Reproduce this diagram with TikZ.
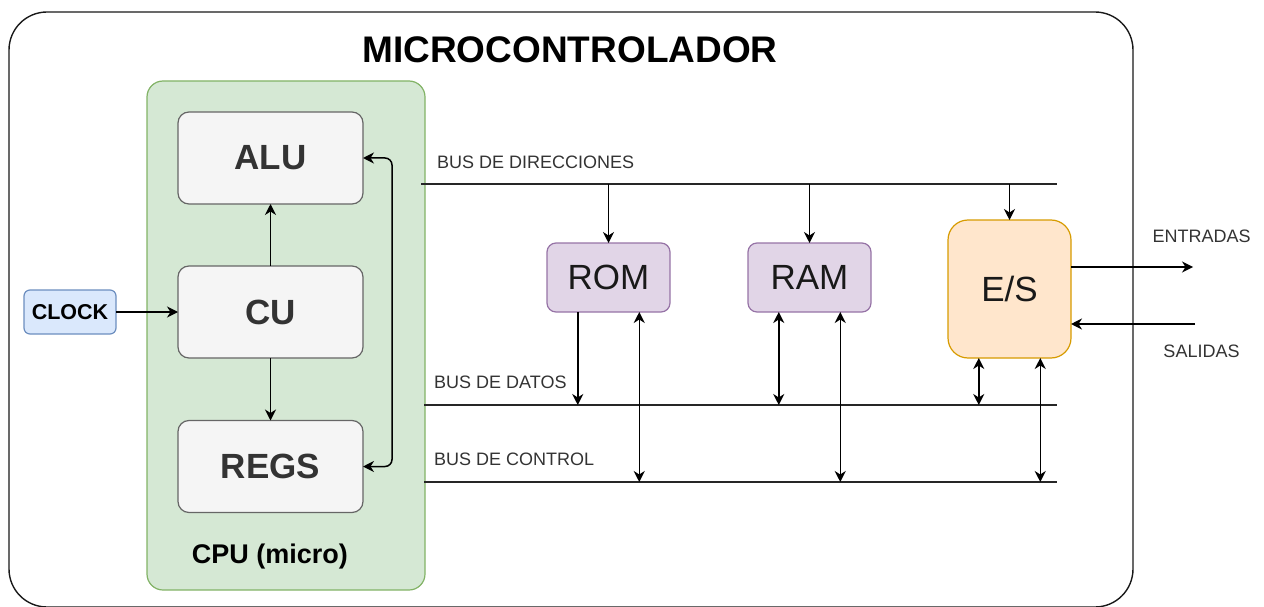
\documentclass[tikz,border=0pt]{standalone}
\usepackage{fontspec}
\setmainfont{Liberation Sans}
\usetikzlibrary{arrows.meta,calc}

\definecolor{cpuFill}{HTML}{D5E8D4}
\definecolor{cpuLine}{HTML}{82B366}
\definecolor{grayFill}{HTML}{F5F5F5}
\definecolor{grayLine}{HTML}{666666}
\definecolor{clkFill}{HTML}{DAE8FC}
\definecolor{clkLine}{HTML}{6C8EBF}
\definecolor{memFill}{HTML}{E1D5E7}
\definecolor{memLine}{HTML}{9673A6}
\definecolor{ioFill}{HTML}{FFE6CC}
\definecolor{ioLine}{HTML}{D79B00}
\definecolor{txtGray}{HTML}{333333}

\tikzset{
  blk/.style={draw, line width=1.2pt, inner sep=0pt, outer sep=0pt, align=center},
  unit/.style={blk, fill=grayFill, draw=grayLine, rounded corners=11pt,
    minimum width=185pt, minimum height=92pt, text=txtGray,
    font=\fontsize{35}{40}\selectfont\bfseries},
  mem/.style={blk, fill=memFill, draw=memLine, rounded corners=9pt,
    minimum width=123pt, minimum height=69pt, text=black!90,
    font=\fontsize{35}{40}\selectfont},
  buslabel/.style={anchor=west, inner sep=0pt, text=txtGray,
    font=\fontsize{18}{20}\selectfont},
  sidelabel/.style={inner sep=0pt, text=txtGray,
    font=\fontsize{18}{20}\selectfont},
  arr/.style={-{Stealth[length=11pt,width=11pt,inset=3.5pt]}, line width=1.5pt, black},
  arrb/.style={{Stealth[length=11pt,width=11pt,inset=3.5pt]}-{Stealth[length=11pt,width=11pt,inset=3.5pt]}, line width=1.5pt, black},
  bus/.style={line width=1.6pt, black!85},
}

\begin{document}
\begin{tikzpicture}[x=1pt, y=-1pt]
  \useasboundingbox (0,0) rectangle (1264,607);

  % outer frame of the microcontroller
  \draw[line width=1.4pt, black!90, rounded corners=38pt] (9,12) rectangle (1133,607);
  \node[inner sep=0pt, font=\fontsize{37}{42}\selectfont\bfseries] (title) at (570,50) {MICROCONTROLADOR};

  % CPU block
  \node[blk, fill=cpuFill, draw=cpuLine, rounded corners=16pt,
        minimum width=278pt, minimum height=509pt] (cpu) at (286,335.5) {};
  \node[inner sep=0pt, font=\fontsize{27}{30}\selectfont\bfseries] (cpulbl) at (270,557) {CPU (micro)};

  \node[unit] (alu)  at (270.5,158) {ALU};
  \node[unit] (cu)   at (270.5,312) {CU};
  \node[unit] (regs) at (270.5,466.5) {REGS};

  \node[blk, fill=clkFill, draw=clkLine, rounded corners=6pt,
        minimum width=92pt, minimum height=44pt,
        font=\fontsize{21.5}{24}\selectfont\bfseries] (clock) at (70,312) {CLOCK};

  \draw[arr] (clock) -- (cu);
  \draw[arr] (cu) -- (alu);
  \draw[arr] (cu) -- (regs);
  \draw[arrb, rounded corners=7pt] (alu.east) -- ++(29,0) |- (regs.east);

  % buses
  \coordinate (adrL) at (421,184);  \coordinate (adrR) at (1057,184);
  \coordinate (datL) at (424,405);  \coordinate (datR) at (1057,405);
  \coordinate (ctlL) at (424,482);  \coordinate (ctlR) at (1057,482);
  \draw[bus] (adrL) -- (adrR);
  \draw[bus] (datL) -- (datR);
  \draw[bus] (ctlL) -- (ctlR);
  \node[buslabel] (adrlbl) at (437,162) {BUS DE DIRECCIONES};
  \node[buslabel] (datlbl) at (434,382) {BUS DE DATOS};
  \node[buslabel] (ctllbl) at (434,459) {BUS DE CONTROL};

  % memories and I/O
  \node[mem] (rom) at (608.5,277.5) {ROM};
  \node[mem] (ram) at (809.5,277.5) {RAM};
  \node[blk, fill=ioFill, draw=ioLine, rounded corners=20pt,
        minimum width=123pt, minimum height=138pt, text=black!90,
        font=\fontsize{35}{40}\selectfont] (es) at (1009.5,289) {E/S};

  % address bus taps
  \draw[arr] (rom.north |- adrL) -- (rom.north);
  \draw[arr] (ram.north |- adrL) -- (ram.north);
  \draw[arr] (es.north |- adrL) -- (es.north);

  % data and control taps
  \path ($(rom.south west)!0.25!(rom.south east)$) coordinate (rom1)
        ($(rom.south west)!0.75!(rom.south east)$) coordinate (rom2)
        ($(ram.south west)!0.25!(ram.south east)$) coordinate (ram1)
        ($(ram.south west)!0.75!(ram.south east)$) coordinate (ram2)
        ($(es.south west)!0.25!(es.south east)$) coordinate (es1)
        ($(es.south west)!0.75!(es.south east)$) coordinate (es2);
  \draw[arr]  (rom1) -- (rom1 |- datL);
  \draw[arrb] (rom2) -- (rom2 |- ctlL);
  \draw[arrb] (ram1) -- (ram1 |- datL);
  \draw[arrb] (ram2) -- (ram2 |- ctlL);
  \draw[arrb] (es1) -- (es1 |- datL);
  \draw[arrb] (es2) -- (es2 |- ctlL);

  % external lines
  \coordinate (entr) at (1193,267);
  \coordinate (sal)  at (1195,324);
  \draw[arr] (es.east |- entr) -- (entr);
  \draw[arr] (sal) -- (es.east |- sal);
  \node[sidelabel] (entrlbl) at (1201.5,236) {ENTRADAS};
  \node[sidelabel] (sallbl)  at (1201.5,351) {SALIDAS};
\end{tikzpicture}
\end{document}
